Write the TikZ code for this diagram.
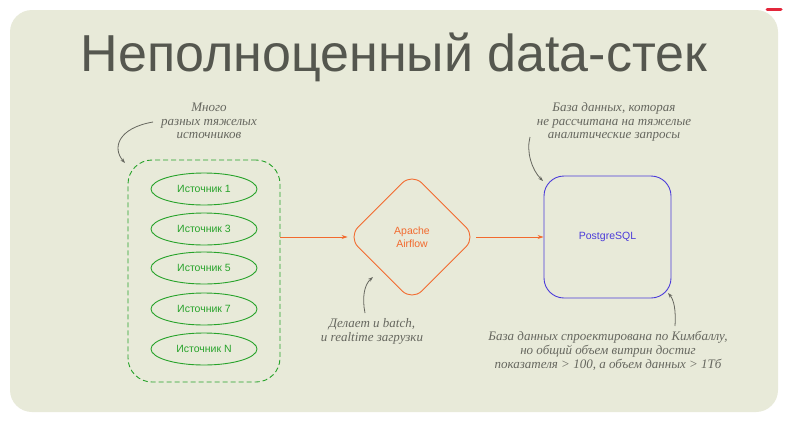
\documentclass[tikz,border=0pt]{standalone}
\usepackage{fontspec}
\setmainfont{Liberation Sans}
\newfontfamily\notefont{Liberation Serif}
\usetikzlibrary{shapes.geometric,arrows.meta}
\definecolor{panelbg}{HTML}{E8EAD9}
\definecolor{titlegray}{HTML}{55574F}
\definecolor{notegray}{HTML}{66675F}
\definecolor{srcgreen}{HTML}{27A32A}
\definecolor{flowor}{HTML}{F26A2E}
\definecolor{pgblue}{HTML}{4B3BD9}
\definecolor{markred}{HTML}{E3263B}

\begin{document}
\begin{tikzpicture}[x=1pt,y=-1pt,
  src/.style={ellipse,draw=srcgreen,line width=0.9,text=srcgreen,minimum width=106,minimum height=32,inner sep=0,font=\fontsize{10.5}{12}\selectfont},
  note/.style={font=\notefont\itshape\fontsize{13}{13.8}\selectfont,text=notegray,align=center},
  flow/.style={draw=flowor,line width=0.9,-{Stealth[length=6pt,width=4pt]}},
  hint/.style={draw=notegray,line width=0.8,-{Stealth[length=5pt,width=3.5pt]}}]
 \useasboundingbox[fill=white] (0,0) rectangle (788,421);
 \fill[panelbg,rounded corners=22] (10,10) rectangle (778,412);
 \draw[markred,line width=3,line cap=round] (767,9) -- (781,9);
 \node[text=titlegray,font=\fontsize{52}{60}\selectfont] (title) at (394,57) {Неполноценный data-стек};
 % sources
 \node[draw=srcgreen,dash pattern=on 5pt off 3pt,line width=0.9,rounded corners=24,minimum width=152,minimum height=222] (sources) at (204,271) {};
 \foreach \n/\y in {1/189,3/229,5/268,7/309,N/349}
   \node[src] (src\n) at (204,\y) {Источник \n};
 \node[diamond,draw=flowor,line width=0.9,rounded corners=14,minimum size=128,inner sep=0,text=flowor,align=center,font=\fontsize{10.5}{13}\selectfont] (airflow) at (412,237) {Apache\\Airflow};
 \node[draw=pgblue,line width=0.9,rounded corners=20,minimum width=127,minimum height=122,text=pgblue,font=\fontsize{10.5}{12}\selectfont] (pg) at (607.5,237) {PostgreSQL};
 \path[flow] (sources.east |- airflow) -- (airflow.west);
 \path[flow] (airflow.east) -- (pg.west);
 % notes
 \node[note] (srcnote) at (209,121) {Много\\разных тяжелых\\источников};
 \node[note] (afnote) at (372,331) {Делает и batch,\\и realtime загрузки};
 \node[note] (pgnote) at (614,122) {База данных, которая\\не рассчитана на тяжелые\\аналитические запросы};
 \node[note] (kimnote) at (608,351) {База данных спроектирована по Кимбаллу,\\но общий объем витрин достиг\\показателя > 100, а объем данных > 1Тб};
 \coordinate (srcfrom) at (153,122);
 \coordinate (srctip) at (125,163);
 \coordinate (affrom) at (365,313);
 \coordinate (aftip) at (373,277);
 \coordinate (pgfrom) at (530,137);
 \coordinate (pgtip) at (543,181);
 \coordinate (kimfrom) at (675,326);
 \coordinate (kimtip) at (668,293);
 \draw[hint] (srcfrom) .. controls (118,128) and (112,148) .. (srctip);
 \draw[hint] (affrom) .. controls (362,298) and (364,285) .. (aftip);
 \draw[hint] (pgfrom) .. controls (526,152) and (532,170) .. (pgtip);
 \draw[hint] (kimfrom) .. controls (676,310) and (674,300) .. (kimtip);
\end{tikzpicture}
\end{document}
